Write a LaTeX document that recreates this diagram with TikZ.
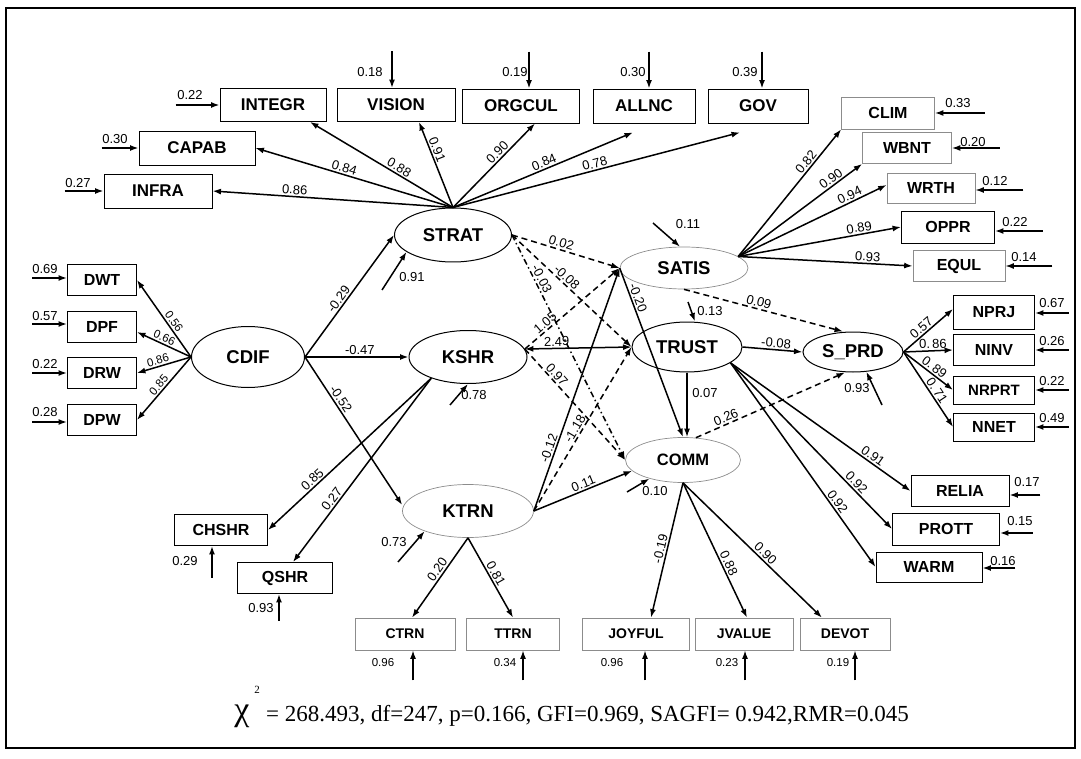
\documentclass[tikz,border=0pt]{standalone}
\usepackage{fontspec}
\setmainfont{Liberation Sans}
\newfontfamily\serifff{Liberation Serif}
\usetikzlibrary{arrows.meta,shapes.geometric}
\newcommand\mytopbox{\bfseries\fontsize{17}{19}\selectfont}
\newcommand\mybox{\bfseries\fontsize{16}{18}\selectfont}
\newcommand\mysmbox{\bfseries\fontsize{14}{16}\selectfont}
\newcommand\mylat{\bfseries\fontsize{18.5}{20}\selectfont}
\newcommand\mynum{\fontsize{13}{15}\selectfont}
\newcommand\mysmnum{\fontsize{11.5}{13}\selectfont}
\begin{document}
\begin{tikzpicture}[x=1pt,y=-1pt,
  box/.style={draw, line width=0.9pt, inner sep=0pt, font=\mybox},
  tbox/.style={box, font=\mytopbox},
  lbox/.style={box, draw=black!45, line width=0.7pt},
  sbox/.style={lbox, font=\mysmbox},
  lat/.style={ellipse, draw, line width=1pt, inner sep=0pt, font=\mylat},
  llat/.style={lat, draw=black!45, line width=0.7pt},
  arr/.style={-{Latex[length=8.5pt,width=6pt]}, line width=1.5pt},
  dsh/.style={arr, dash pattern=on 6pt off 4pt},
  dshdot/.style={arr, dash pattern=on 6pt off 3pt on 1.5pt off 3pt},
  num/.style={font=\mynum, inner sep=1.5pt},
  snum/.style={font=\mysmnum, inner sep=1.5pt},
  lab/.style={num, sloped, above},
  slab/.style={snum, sloped, above}]
\useasboundingbox (0,0) rectangle (1081,759);
\draw[line width=1.6pt] (6,8) rectangle (1075,748);

% ---------- indicator boxes ----------
\node[tbox, minimum width=106pt, minimum height=33pt] (integr) at (273,105) {INTEGR};
\node[tbox, minimum width=118pt, minimum height=33pt] (vision) at (396,105) {VISION};
\node[tbox, minimum width=117pt, minimum height=34pt] (orgcul) at (521,106) {ORGCUL};
\node[tbox, minimum width=102pt, minimum height=34pt] (allnc) at (644,106) {ALLNC};
\node[tbox, minimum width=100pt, minimum height=34pt] (gov) at (758,106) {GOV};
\node[tbox, minimum width=116pt, minimum height=34pt] (capab) at (197,148) {CAPAB};
\node[tbox, minimum width=108pt, minimum height=34pt] (infra) at (158,191) {INFRA};

\node[box, minimum width=69pt, minimum height=31pt] (dwt) at (102,280) {DWT};
\node[box, minimum width=69pt, minimum height=31pt] (dpf) at (102,327) {DPF};
\node[box, minimum width=69pt, minimum height=31pt] (drw) at (102,373) {DRW};
\node[box, minimum width=69pt, minimum height=31pt] (dpw) at (102,420) {DPW};

\node[box, minimum width=93pt, minimum height=31pt] (chshr) at (221,530) {CHSHR};
\node[box, minimum width=95pt, minimum height=31pt] (qshr) at (285,578) {QSHR};

\node[sbox, minimum width=100pt, minimum height=32pt] (ctrn) at (405,634) {CTRN};
\node[sbox, minimum width=93pt, minimum height=32pt] (ttrn) at (513,634) {TTRN};
\node[sbox, minimum width=107pt, minimum height=32pt] (joyful) at (636,634) {JOYFUL};
\node[sbox, minimum width=98pt, minimum height=32pt] (jvalue) at (744,634) {JVALUE};
\node[sbox, minimum width=90pt, minimum height=32pt] (devot) at (845,634) {DEVOT};

\node[lbox, minimum width=93pt, minimum height=32pt] (clim) at (888,113) {CLIM};
\node[lbox, minimum width=89pt, minimum height=31pt] (wbnt) at (907,148) {WBNT};
\node[lbox, minimum width=88pt, minimum height=30pt] (wrth) at (931,188) {WRTH};
\node[box, minimum width=93pt, minimum height=32pt] (oppr) at (948,227) {OPPR};
\node[lbox, minimum width=92pt, minimum height=31pt] (equl) at (959,266) {EQUL};

\node[box, minimum width=81pt, minimum height=34pt] (nprj) at (994,312) {NPRJ};
\node[box, minimum width=81pt, minimum height=31pt] (ninv) at (994,350) {NINV};
\node[box, minimum width=81pt, minimum height=28pt, font=\bfseries\fontsize{15}{17}\selectfont] (nrprt) at (994,390) {NRPRT};
\node[box, minimum width=81pt, minimum height=28pt] (nnet) at (994,427) {NNET};

\node[box, minimum width=98pt, minimum height=31pt] (relia) at (960,491) {RELIA};
\node[box, minimum width=107pt, minimum height=32pt] (prott) at (946,529) {PROTT};
\node[box, minimum width=106pt, minimum height=30pt] (warm) at (929,567) {WARM};

% ---------- latent variables ----------
\node[lat, minimum width=117pt, minimum height=54pt] (strat) at (453,235) {STRAT};
\node[lat, minimum width=113pt, minimum height=61pt] (cdif) at (248,357) {CDIF};
\node[lat, minimum width=118pt, minimum height=53pt] (kshr) at (468,357) {KSHR};
\node[llat, minimum width=131pt, minimum height=53pt] (ktrn) at (468,511) {KTRN};
\node[llat, minimum width=128pt, minimum height=42pt] (satis) at (684,268) {SATIS};
\node[lat, minimum width=110pt, minimum height=50pt] (trust) at (687,347) {TRUST};
\node[lat, minimum width=100pt, minimum height=40pt] (spr) at (853,352) {S\_PRD};
\node[llat, minimum width=115pt, minimum height=45pt, font=\bfseries\fontsize{16.5}{18}\selectfont] (comm) at (683,460) {COMM};

% ---------- STRAT loadings ----------
\draw[arr] (strat.north) -- (infra.east) node[lab,pos=0.66] (l1) {0.86};
\draw[arr] (strat.north) -- (capab.east) node[lab,pos=0.56] (l2) {0.84};
\draw[arr] (strat.north) -- ([xshift=37pt]integr.south) node[lab,pos=0.40] (l3) {0.88};
\draw[arr] (strat.north) -- ([xshift=23pt]vision.south) node[lab,pos=0.65] (l4) {0.91};
\draw[arr] (strat.north) -- ([xshift=14pt]orgcul.south) node[lab,pos=0.60] (l5) {0.90};
\draw[arr] (strat.north) -- ([xshift=-11pt,yshift=-9pt]allnc.south) node[lab,pos=0.52] (l6) {0.84};
\draw[arr] (strat.north) -- ([xshift=-18pt,yshift=-9pt]gov.south) node[lab,pos=0.50] (l7) {0.78};

% top error terms
\draw[arr] ([xshift=-4pt,yshift=37pt]vision.north) -- ([xshift=-4pt]vision.north);
\node[num] (ev) at (370,72) {0.18};
\draw[arr] ([xshift=8pt,yshift=37pt]orgcul.north) -- ([xshift=8pt]orgcul.north);
\node[num] (eo) at (515,72) {0.19};
\draw[arr] ([xshift=5pt,yshift=37pt]allnc.north) -- ([xshift=5pt]allnc.north);
\node[num] (ea) at (633,72) {0.30};
\draw[arr] ([xshift=4pt,yshift=37pt]gov.north) -- ([xshift=4pt]gov.north);
\node[num] (eg) at (745,72) {0.39};
\draw[arr] ([xshift=-44pt]integr.west) -- (integr.west);
\node[num] (ei) at (190,95) {0.22};
\draw[arr] ([xshift=-37pt]capab.west) -- (capab.west);
\node[num] (ec) at (115,139) {0.30};
\draw[arr] ([xshift=-39pt]infra.west) -- (infra.west);
\node[num] (ef) at (78,183) {0.27};

% ---------- CDIF ----------
\draw[arr] (cdif.west) -- (dwt.east) node[slab,pos=0.41] (l8) {0.56};
\draw[arr] (cdif.west) -- ([yshift=-5pt]dpf.east) node[slab,pos=0.54] (l9) {0.66};
\draw[arr] (cdif.west) -- (drw.east) node[slab,pos=0.58] (l10) {0.86};
\draw[arr] (cdif.west) -- (dpw.east) node[slab,pos=0.51] (l11) {0.85};
\draw[arr] ([xshift=-35pt,yshift=2pt]dwt.west) -- ([yshift=2pt]dwt.west);
\node[num] (ed1) at (45,269) {0.69};
\draw[arr] ([xshift=-35pt,yshift=3pt]dpf.west) -- ([yshift=3pt]dpf.west);
\node[num] (ed2) at (45,316) {0.57};
\draw[arr] ([xshift=-35pt]drw.west) -- (drw.west);
\node[num] (ed3) at (45,364) {0.22};
\draw[arr] ([xshift=-35pt,yshift=-2pt]dpw.west) -- ([yshift=-2pt]dpw.west);
\node[num] (ed4) at (45,412) {0.28};

\draw[arr] (cdif.east) -- (strat.west) node[lab,pos=0.44] (l12) {-0.29};
\draw[arr] (cdif.east) -- (kshr.west) node[lab,pos=0.53] (l13) {-0.47};
\draw[arr] (cdif.east) -- ([yshift=6pt]ktrn.west) node[lab,pos=0.31] (l14) {-0.52};

% ---------- KSHR ----------
\draw[arr] (kshr.210) -- (chshr.east) node[lab,pos=0.70] (l15) {0.85};
\draw[arr] (kshr.210) -- ([xshift=8pt]qshr.north) node[lab,pos=0.68] (l16) {0.27};
\draw[arr] ([xshift=-9pt,yshift=-32pt]chshr.south) -- ([xshift=-9pt]chshr.south);
\node[num] (ech) at (185,561) {0.29};
\draw[arr] ([xshift=-6pt,yshift=-27pt]qshr.south) -- ([xshift=-6pt]qshr.south);
\node[num] (eq) at (261,608) {0.93};

% ---------- KTRN ----------
\draw[arr] (ktrn.south) -- ([xshift=7pt]ctrn.north) node[lab,pos=0.45] (l17) {0.20};
\draw[arr] (ktrn.south) -- (ttrn.north) node[lab,pos=0.49] (l18) {0.81};
\draw[arr] (ktrn.east) -- (comm.192) node[lab,pos=0.53] (l19) {0.11};
\draw[arr] (ktrn.east) -- (satis.west) node[lab,pos=0.25] (l20) {-0.12};
\draw[dsh] (ktrn.east) -- (trust.west) node[lab,pos=0.48] (l21) {-1.18};

% ---------- STRAT structural ----------
\draw[dsh] (strat.east) -- (satis.west) node[lab,pos=0.44] (l22) {0.02};
\draw[dsh] (strat.east) -- (trust.west) node[lab,pos=0.42] (l23) {-0.08};
\draw[dshdot] (strat.east) -- (comm.west) node[lab,pos=0.21] (l24) {-0.03};

% ---------- KSHR structural ----------
\draw[dsh] (kshr.8) -- (satis.west) node[lab,pos=0.26] (l25) {1.05};
\draw[{Latex[length=8.5pt,width=6pt]}-{Latex[length=8.5pt,width=6pt]}, line width=1.5pt] (kshr.8) -- (trust.west) node[lab,pos=0.3] (l26) {2.49};
\draw[dsh] (kshr.8) -- (comm.west) node[lab,pos=0.27] (l27) {0.97};

% ---------- SATIS ----------
\draw[arr] (satis.west) -- (comm.north) node[lab,pos=0.19] (l28) {-0.20};
\draw[dsh] (satis.south) -- ([xshift=-10pt]spr.north) node[lab,pos=0.46] (l29) {0.09};
\draw[arr] (satis.12) -- (clim.south west) node[lab,pos=0.71] (l30) {0.82};
\draw[arr] (satis.12) -- (wbnt.south west) node[lab,pos=0.78] (l31) {0.90};
\draw[arr] (satis.12) -- ([yshift=3pt]wrth.west) node[lab,pos=0.77] (l32) {0.94};
\draw[arr] (satis.12) -- (oppr.west) node[lab,pos=0.75] (l33) {0.89};
\draw[arr] (satis.12) -- (equl.west) node[lab,pos=0.74] (l34) {0.93};
\draw[arr] ([xshift=50pt]clim.east) -- (clim.east);
\node[num] (ecl) at (958,103) {0.33};
\draw[arr] ([xshift=48pt]wbnt.east) -- (wbnt.east);
\node[num] (ewb) at (973,142) {0.20};
\draw[arr] ([xshift=48pt,yshift=-2pt]wrth.east) -- ([yshift=-2pt]wrth.east);
\node[num] (ewr) at (995,181) {0.12};
\draw[arr] ([xshift=48pt,yshift=-4pt]oppr.east) -- ([yshift=-4pt]oppr.east);
\node[num] (eop) at (1015,222) {0.22};
\draw[arr] ([xshift=47pt]equl.east) -- (equl.east);
\node[num] (eeq) at (1024,257) {0.14};

% ---------- TRUST ----------
\draw[arr] (trust.south) -- (trust.south |- comm.north) node[num,right=3pt,pos=0.32] (l35) {0.07};
\draw[arr] (trust.east) -- (spr.west) node[lab,pos=0.55] (l36) {-0.08};
\draw[arr] (trust.-20) -- (relia.west) node[lab,pos=0.77] (l37) {0.91};
\draw[arr] (trust.-20) -- (prott.west) node[lab,pos=0.75] (l38) {0.92};
\draw[arr] (trust.-20) -- (warm.west) node[lab,pos=0.70] (l39) {0.92};
\draw[arr] ([xshift=31pt,yshift=-4pt]relia.east) -- ([yshift=-4pt]relia.east);
\node[num] (ere) at (1027,482) {0.17};
\draw[arr] ([xshift=33pt,yshift=-4pt]prott.east) -- ([yshift=-4pt]prott.east);
\node[num] (epr) at (1020,521) {0.15};
\draw[arr] ([xshift=33pt,yshift=-1pt]warm.east) -- ([yshift=-1pt]warm.east);
\node[num] (ewa) at (1003,561) {0.16};

% ---------- S_PRD ----------
\draw[arr] (spr.east) -- ([yshift=3pt]nprj.west) node[lab,pos=0.45] (l40) {0.57};
\draw[arr] (spr.east) -- (ninv.west) node[lab,pos=0.6] (l41) {0.\,86};
\draw[arr] (spr.east) -- (nrprt.west) node[lab,pos=0.54] (l42) {0.\,89};
\draw[arr] (spr.east) -- (nnet.west) node[lab,pos=0.56] (l43) {0.\,71};
\draw[arr] ([xshift=34pt,yshift=-1pt]nprj.east) -- ([yshift=-1pt]nprj.east);
\node[num] (enp) at (1052,303) {0.67};
\draw[arr] ([xshift=34pt]ninv.east) -- (ninv.east);
\node[num] (eni) at (1052,341) {0.26};
\draw[arr] ([xshift=34pt]nrprt.east) -- (nrprt.east);
\node[num] (enr) at (1052,381) {0.22};
\draw[arr] ([xshift=34pt]nnet.east) -- (nnet.east);
\node[num] (enn) at (1052,418) {0.49};

% ---------- COMM ----------
\draw[dsh] (comm.60) -- ([xshift=-8pt]spr.south) node[lab,pos=0.22] (l44) {0.26};
\draw[arr] (comm.south) -- ([xshift=15pt]joyful.north) node[lab,pos=0.5] (l45) {-0.19};
\draw[arr] (comm.south) -- ([xshift=3pt]jvalue.north) node[lab,pos=0.62] (l46) {0.88};
\draw[arr] (comm.south) -- ([xshift=-23pt]devot.north) node[lab,pos=0.56] (l47) {0.90};

% bottom error terms
\draw[arr] ([xshift=8pt,yshift=-30pt]ctrn.south) -- ([xshift=8pt]ctrn.south);
\node[snum] (ect) at (383,663) {0.96};
\draw[arr] ([xshift=10pt,yshift=-30pt]ttrn.south) -- ([xshift=10pt]ttrn.south);
\node[snum] (ett) at (505,663) {0.34};
\draw[arr] ([xshift=9pt,yshift=-30pt]joyful.south) -- ([xshift=9pt]joyful.south);
\node[snum] (ejo) at (612,663) {0.96};
\draw[arr] ([xshift=1pt,yshift=-30pt]jvalue.south) -- ([xshift=1pt]jvalue.south);
\node[snum] (ejv) at (727,663) {0.23};
\draw[arr] ([xshift=10pt,yshift=-30pt]devot.south) -- ([xshift=10pt]devot.south);
\node[snum] (ede) at (838,663) {0.19};

% ---------- latent error terms ----------
\coordinate (zs) at (382,290);
\draw[arr] (zs) -- (strat.200);
\node[num] (es) at (412,277) {0.91};
\coordinate (zk) at (450,405);
\draw[arr] (zk) -- (kshr.south);
\node[num] (ek) at (474,395) {0.78};
\coordinate (zt) at (398,562);
\draw[arr] (zt) -- (ktrn.205);
\node[num] (et) at (394,542) {0.73};
\coordinate (zsa) at (653,223);
\draw[arr] (zsa) -- ([xshift=-4pt]satis.north);
\node[num] (esa) at (688,224) {0.11};
\coordinate (ztr) at (688,302);
\draw[arr] (ztr) -- ([xshift=8pt]trust.north);
\node[num] (etr) at (710,311) {0.13};
\coordinate (zco) at (627,492);
\draw[arr] (zco) -- (comm.209);
\node[num] (eco) at (655,491) {0.10};
\coordinate (zsp) at (882,405);
\draw[arr] (zsp) -- (spr.-56);
\node[num] (esp) at (857,388) {0.93};

% ---------- fit statistics ----------
\node[font=\serifff\fontsize{34}{34}\selectfont, inner sep=0pt] (chi) at (242,716) {χ};
\node[font=\serifff\fontsize{11}{11}\selectfont, inner sep=0pt] (chisq) at (257,690) {2};
\node[font=\serifff\fontsize{23}{23}\selectfont, anchor=west, inner sep=0pt] (fit) at (266,716) {= 268.493, df=247, p=0.166, GFI=0.969, SAGFI= 0.942,RMR=0.045};
\end{tikzpicture}
\end{document}
